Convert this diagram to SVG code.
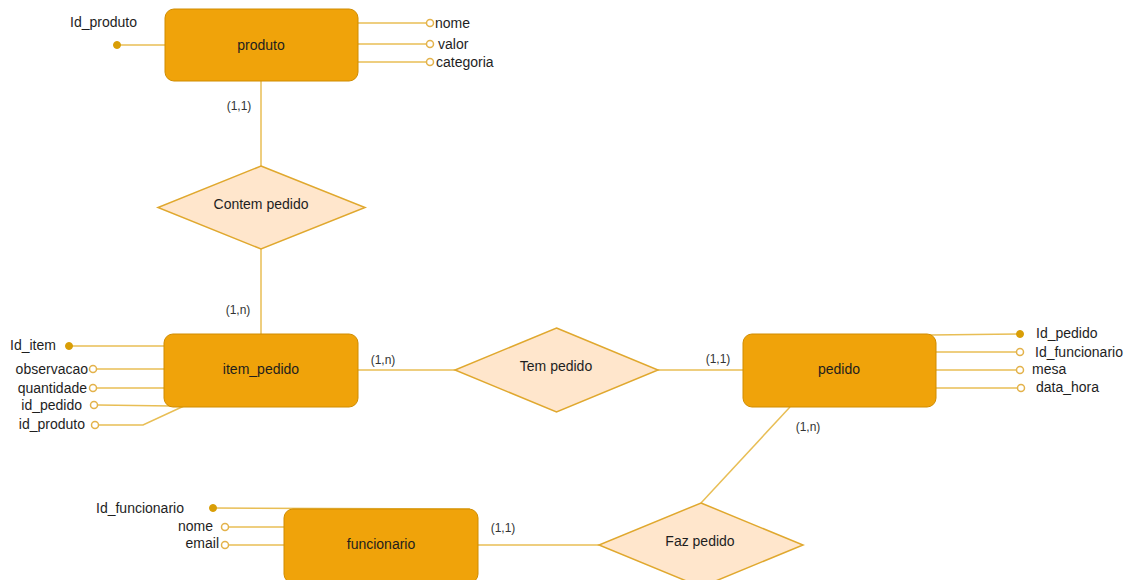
<svg xmlns="http://www.w3.org/2000/svg" width="1128" height="580" viewBox="0 0 1128 580">
<style>
.ent{fill:#F0A30A;stroke:#D08C00;stroke-width:1}
.rel{fill:#FFE6CC;stroke:#E0A82E;stroke-width:1.5}
.ln{fill:none;stroke:#E8BE55;stroke-width:1.5}
.oc{fill:#fff;stroke:#E3B24A;stroke-width:1.5}
.fc{fill:#D99E06;stroke:#D99E06;stroke-width:1}
text{font-family:"Liberation Sans",Arial,sans-serif;font-size:14px;fill:#1e1e1e}
.c{text-anchor:middle}
.e{text-anchor:end}
.card{font-size:12px;fill:#333;text-anchor:middle}
</style>
<g id="connectors">
<line class="ln" x1="261" y1="81" x2="261" y2="166"/>
<line class="ln" x1="261" y1="249" x2="261" y2="334"/>
<line class="ln" x1="358" y1="370" x2="455" y2="370"/>
<line class="ln" x1="658" y1="370" x2="743" y2="370"/>
<line class="ln" x1="790" y1="407" x2="701" y2="503"/>
<line class="ln" x1="478" y1="545" x2="599" y2="545"/>
<!-- produto attrs -->
<line class="ln" x1="117" y1="45" x2="165" y2="45"/>
<line class="ln" x1="358" y1="23" x2="427" y2="23"/>
<line class="ln" x1="358" y1="44" x2="427" y2="44"/>
<line class="ln" x1="358" y1="62" x2="427" y2="62"/>
<!-- item_pedido attrs -->
<line class="ln" x1="69" y1="346" x2="164" y2="346"/>
<line class="ln" x1="97" y1="369" x2="164" y2="369"/>
<line class="ln" x1="97" y1="388" x2="164" y2="388"/>
<line class="ln" x1="98" y1="405" x2="172" y2="406"/>
<polyline class="ln" points="99,425 143,425 184,406"/>
<!-- pedido attrs -->
<line class="ln" x1="930" y1="335" x2="1020" y2="334"/>
<line class="ln" x1="936" y1="352" x2="1017" y2="352"/>
<line class="ln" x1="936" y1="370" x2="1017" y2="370"/>
<line class="ln" x1="936" y1="388" x2="1018" y2="388"/>
<!-- funcionario attrs -->
<line class="ln" x1="213" y1="508" x2="470" y2="509"/>
<line class="ln" x1="229" y1="527" x2="284" y2="527"/>
<line class="ln" x1="229" y1="545" x2="284" y2="545"/>
</g>
<g id="produto">
<rect class="ent" x="165" y="9" width="193" height="72" rx="9"/>
<text class="c" x="261" y="50">produto</text>
</g>
<g id="produto-attrs">
<circle class="fc" cx="117" cy="45" r="3.5"/>
<text x="70" y="27">Id_produto</text>
<circle class="oc" cx="430" cy="23" r="3.5"/>
<text x="435" y="28">nome</text>
<circle class="oc" cx="430" cy="44" r="3.5"/>
<text x="438" y="49">valor</text>
<circle class="oc" cx="430" cy="62" r="3.5"/>
<text x="436" y="67">categoria</text>
</g>
<g id="contem-pedido">
<polygon class="rel" points="261,166 365,207.5 261,249 158,207.5"/>
<text class="c" x="261" y="209">Contem pedido</text>
</g>
<g id="item_pedido">
<rect class="ent" x="164" y="334" width="194" height="73" rx="9"/>
<text class="c" x="261" y="374">item_pedido</text>
</g>
<g id="item-attrs">
<circle class="fc" cx="69" cy="346" r="3.5"/>
<text x="10" y="350">Id_item</text>
<circle class="oc" cx="93" cy="369" r="3.5"/>
<text class="e" x="88" y="374">observacao</text>
<circle class="oc" cx="93" cy="388" r="3.5"/>
<text class="e" x="87" y="393">quantidade</text>
<circle class="oc" cx="94" cy="405" r="3.5"/>
<text class="e" x="82" y="410">id_pedido</text>
<circle class="oc" cx="95" cy="425" r="3.5"/>
<text class="e" x="85" y="429">id_produto</text>
</g>
<g id="tem-pedido">
<polygon class="rel" points="556.5,328 658,370 556.5,412 455,370"/>
<text class="c" x="556" y="371">Tem pedido</text>
</g>
<g id="pedido">
<rect class="ent" x="743" y="334" width="193" height="73" rx="9"/>
<text class="c" x="839" y="374">pedido</text>
</g>
<g id="pedido-attrs">
<circle class="fc" cx="1020" cy="334" r="3.5"/>
<text x="1036" y="338">Id_pedido</text>
<circle class="oc" cx="1020" cy="352" r="3.5"/>
<text x="1035" y="357">Id_funcionario</text>
<circle class="oc" cx="1020" cy="370" r="3.5"/>
<text x="1032" y="374">mesa</text>
<circle class="oc" cx="1021" cy="388" r="3.5"/>
<text x="1036" y="392">data_hora</text>
</g>
<g id="faz-pedido">
<polygon class="rel" points="701,503 803,545 701,587 599,545"/>
<text class="c" x="700" y="546">Faz pedido</text>
</g>
<g id="funcionario">
<rect class="ent" x="284" y="509" width="194" height="74" rx="9"/>
<text class="c" x="381" y="549">funcionario</text>
</g>
<g id="funcionario-attrs">
<circle class="fc" cx="213" cy="508" r="3.5"/>
<text x="96" y="513">Id_funcionario</text>
<circle class="oc" cx="225" cy="527" r="3.5"/>
<text class="e" x="213" y="531">nome</text>
<circle class="oc" cx="225" cy="545" r="3.5"/>
<text class="e" x="219" y="548">email</text>
</g>
<g id="cardinalities">
<text class="card" x="239" y="110">(1,1)</text>
<text class="card" x="238" y="314">(1,n)</text>
<text class="card" x="383" y="364">(1,n)</text>
<text class="card" x="718" y="363">(1,1)</text>
<text class="card" x="808" y="431">(1,n)</text>
<text class="card" x="503" y="532">(1,1)</text>
</g>
</svg>
